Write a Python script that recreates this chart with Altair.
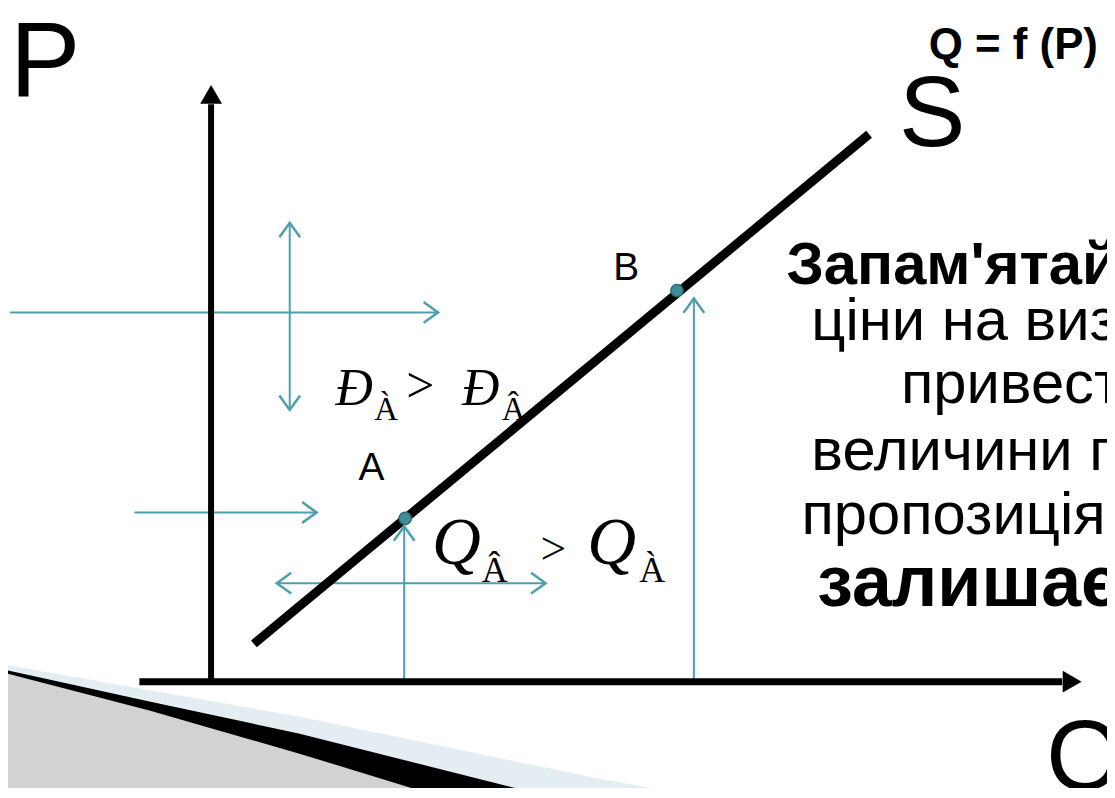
import altair as alt
import pandas as pd

# ---------------- diagram data (Q horizontal, P vertical; origin at axes crossing) ----------
# axes shafts
axis_q1 = [0.0, -7.2]
axis_p1 = [0.0, 0.0]
axis_q2 = [0.0, 85.5]
axis_p2 = [58.0, 0.0]
axis_w = [6, 7]
# axes arrowheads
axhead_q = [0.0, 86.5]
axhead_p = [59.0, 0.0]
axhead_shape = ["triangle-up", "triangle-right"]

# supply curve S
supply_q = [4.3, 66.1]
supply_p = [3.8, 55.0]

# points A and B
point_q = [19.5, 46.8]
point_p = [16.4, 39.3]

# teal guide lines
guide_q1 = [-20.2, 7.9, -7.7, 6.6, 19.4, 48.5]
guide_p1 = [37.1, 27.3, 17.0, 9.9, 0.0, 0.0]
guide_q2 = [22.8, 7.9, 10.6, 33.6, 19.4, 48.5]
guide_p2 = [37.1, 46.1, 17.0, 9.9, 15.6, 38.5]

# teal chevron heads (angle: 0 up, 90 right, 180 down, 270 left)
head_q = [22.8, 7.9, 7.9, 10.6, 6.6, 33.6, 19.4, 48.5]
head_p = [37.1, 46.1, 27.3, 17.0, 9.9, 9.9, 15.6, 38.5]
head_a = [90, 0, 180, 90, 270, 90, 0, 0]

# decorative bottom-left corner bands
blue_q = [-21.2, 8.8, 38.8, 48.8]
blue_p = [1.8, -3.5, -9.7, -11.5]
black_q = [-21.2, -6.2, 8.8, 33.8]
black_p = [1.3, -2.0, -5.2, -11.5]
hatch_q = [-21.2, -6.2, 8.8, 22.8]
hatch_p = [1.0, -2.9, -7.2, -11.5]
floor_p = -12.0

# texts
big_labels = ["P", "S", "Q"]
big_q = [-20.2, 69.1, 83.9]
big_p = [58.8, 53.8, -10.9]
big_size = [106, 100, 100]

func_label = ["Q = f (P)"]
func_q = [72.1]
func_p = [62.6]

pt_labels = ["A", "B"]
pt_lab_q = [14.8, 40.4]
pt_lab_p = [20.3, 40.4]

eq_main = ["Ð", "Ð"]
eq_main_q = [12.5, 25.2]
eq_main_p = [27.8, 27.8]
eq_sub = ["À", "Â"]
eq_sub_q = [16.4, 29.2]
eq_sub_p = [26.3, 26.3]
eq_gt_q = [19.6]
eq_gt_p = [28.1]

q_main = ["Q", "Q"]
q_main_q = [22.2, 37.8]
q_main_p = [11.8, 11.8]
q_sub = ["Â", "À"]
q_sub_q = [27.2, 43.0]
q_sub_p = [10.0, 10.0]
q_gt_q = [33.1]
q_gt_p = [11.8]

note_top = ["Запам'ятай: зміна"]
note_top_q = [57.8]
note_top_p = [40.0]
note_reg = ["ціни на визначений товар", "привести до зміни",
            "величини пропозиції, але", "пропозиція як така"]
note_reg_q = [60.3, 69.3, 60.3, 59.3]
note_reg_p = [34.3, 28.0, 21.3, 14.8]
note_end = ["залишається незмінною"]
note_end_q = [60.9]
note_end_p = [7.6]

# ---------------- scales ----------------
TEAL = "#4c9fae"
xs = alt.Scale(domain=[-20.4, 90.0], nice=False, zero=False)
ys = alt.Scale(domain=[-10.5, 67.5], nice=False, zero=False)


def X(f="q"):
    return alt.X(f"{f}:Q", scale=xs, axis=None)


def Y(f="p"):
    return alt.Y(f"{f}:Q", scale=ys, axis=None)


def band(qs, ps, color):
    df = pd.DataFrame({"q": qs, "p": ps, "b": [floor_p] * len(qs)})
    return alt.Chart(df).mark_area(color=color, opacity=1, interpolate="linear").encode(
        x=X(), y=Y(), y2=alt.Y2("b:Q"))


def texts(labels, qs, ps, font, size, weight="normal", style="normal", color="black"):
    df = pd.DataFrame({"t": labels, "q": qs, "p": ps})
    return alt.Chart(df).mark_text(
        align="left", baseline="alphabetic", font=font, fontSize=size,
        fontWeight=weight, fontStyle=style, color=color).encode(
        x=X(), y=Y(), text="t:N")


layers = []
layers.append(band(blue_q, blue_p, "#e3edf2"))
layers.append(band(black_q, black_p, "#000000"))
layers.append(band(hatch_q, hatch_p, "#d2d2d2"))

# teal guide lines
gdf = pd.DataFrame({"q1": guide_q1, "p1": guide_p1, "q2": guide_q2, "p2": guide_p2})
layers.append(alt.Chart(gdf).mark_rule(color=TEAL, strokeWidth=2).encode(
    x=X("q1"), y=Y("p1"), x2=alt.X2("q2:Q"), y2=alt.Y2("p2:Q")))

# axes
adf = pd.DataFrame({"q1": axis_q1, "p1": axis_p1, "q2": axis_q2, "p2": axis_p2, "w": axis_w})
layers.append(alt.Chart(adf).mark_rule(color="black", strokeCap="butt").encode(
    x=X("q1"), y=Y("p1"), x2=alt.X2("q2:Q"), y2=alt.Y2("p2:Q"),
    strokeWidth=alt.StrokeWidth("w:Q", scale=None)))
hdf = pd.DataFrame({"q": axhead_q, "p": axhead_p, "s": axhead_shape})
layers.append(alt.Chart(hdf).mark_point(filled=True, color="black", size=480, opacity=1).encode(
    x=X(), y=Y(), shape=alt.Shape("s:N", scale=None)))

# supply line
sdf = pd.DataFrame({"q": supply_q, "p": supply_p})
layers.append(alt.Chart(sdf).mark_line(color="black", strokeWidth=9, strokeCap="butt").encode(
    x=X(), y=Y()))

# chevrons
cdf = pd.DataFrame({"q": head_q, "p": head_p, "a": head_a})
layers.append(alt.Chart(cdf).mark_point(
    shape="M-0.72,1L0,0L0.72,1", filled=False, size=840, color=TEAL,
    strokeWidth=2.5, opacity=1).encode(
    x=X(), y=Y(), angle=alt.Angle("a:Q", scale=None)))

# points A, B
pdf = pd.DataFrame({"q": point_q, "p": point_p})
layers.append(alt.Chart(pdf).mark_point(
    shape="circle", filled=True, size=150, fill="#3f8f99", stroke="#2a6b73",
    strokeWidth=1.5, opacity=1).encode(x=X(), y=Y()))

SANS = "Liberation Sans, Arial, sans-serif"
SERIF = "Liberation Serif, Times New Roman, serif"

for lab, q, p, s in zip(big_labels, big_q, big_p, big_size):
    layers.append(texts([lab], [q], [p], SANS, s))
layers.append(texts(func_label, func_q, func_p, SANS, 44, weight="bold"))
layers.append(texts(pt_labels, pt_lab_q, pt_lab_p, SANS, 39))
layers.append(texts(eq_main, eq_main_q, eq_main_p, SERIF, 52, style="italic"))
layers.append(texts(eq_sub, eq_sub_q, eq_sub_p, SERIF, 33))
layers.append(texts([">"], eq_gt_q, eq_gt_p, SERIF, 50))
layers.append(texts(q_main, q_main_q, q_main_p, SERIF, 68, style="italic"))
layers.append(texts(q_sub, q_sub_q, q_sub_p, SERIF, 36))
layers.append(texts([">"], q_gt_q, q_gt_p, SERIF, 46))
layers.append(texts(note_top, note_top_q, note_top_p, SANS, 60, weight="bold"))
layers.append(texts(note_reg, note_reg_q, note_reg_p, SANS, 60))
layers.append(texts(note_end, note_end_q, note_end_p, SANS, 72, weight="bold"))

chart = alt.layer(*layers).properties(
    width=1104, height=780, padding=0,
    autosize=alt.AutoSizeParams(type="none"),
    background="white",
).configure_view(stroke=None)

chart.save("out.html", embed_options={"renderer": "svg", "actions": False})
